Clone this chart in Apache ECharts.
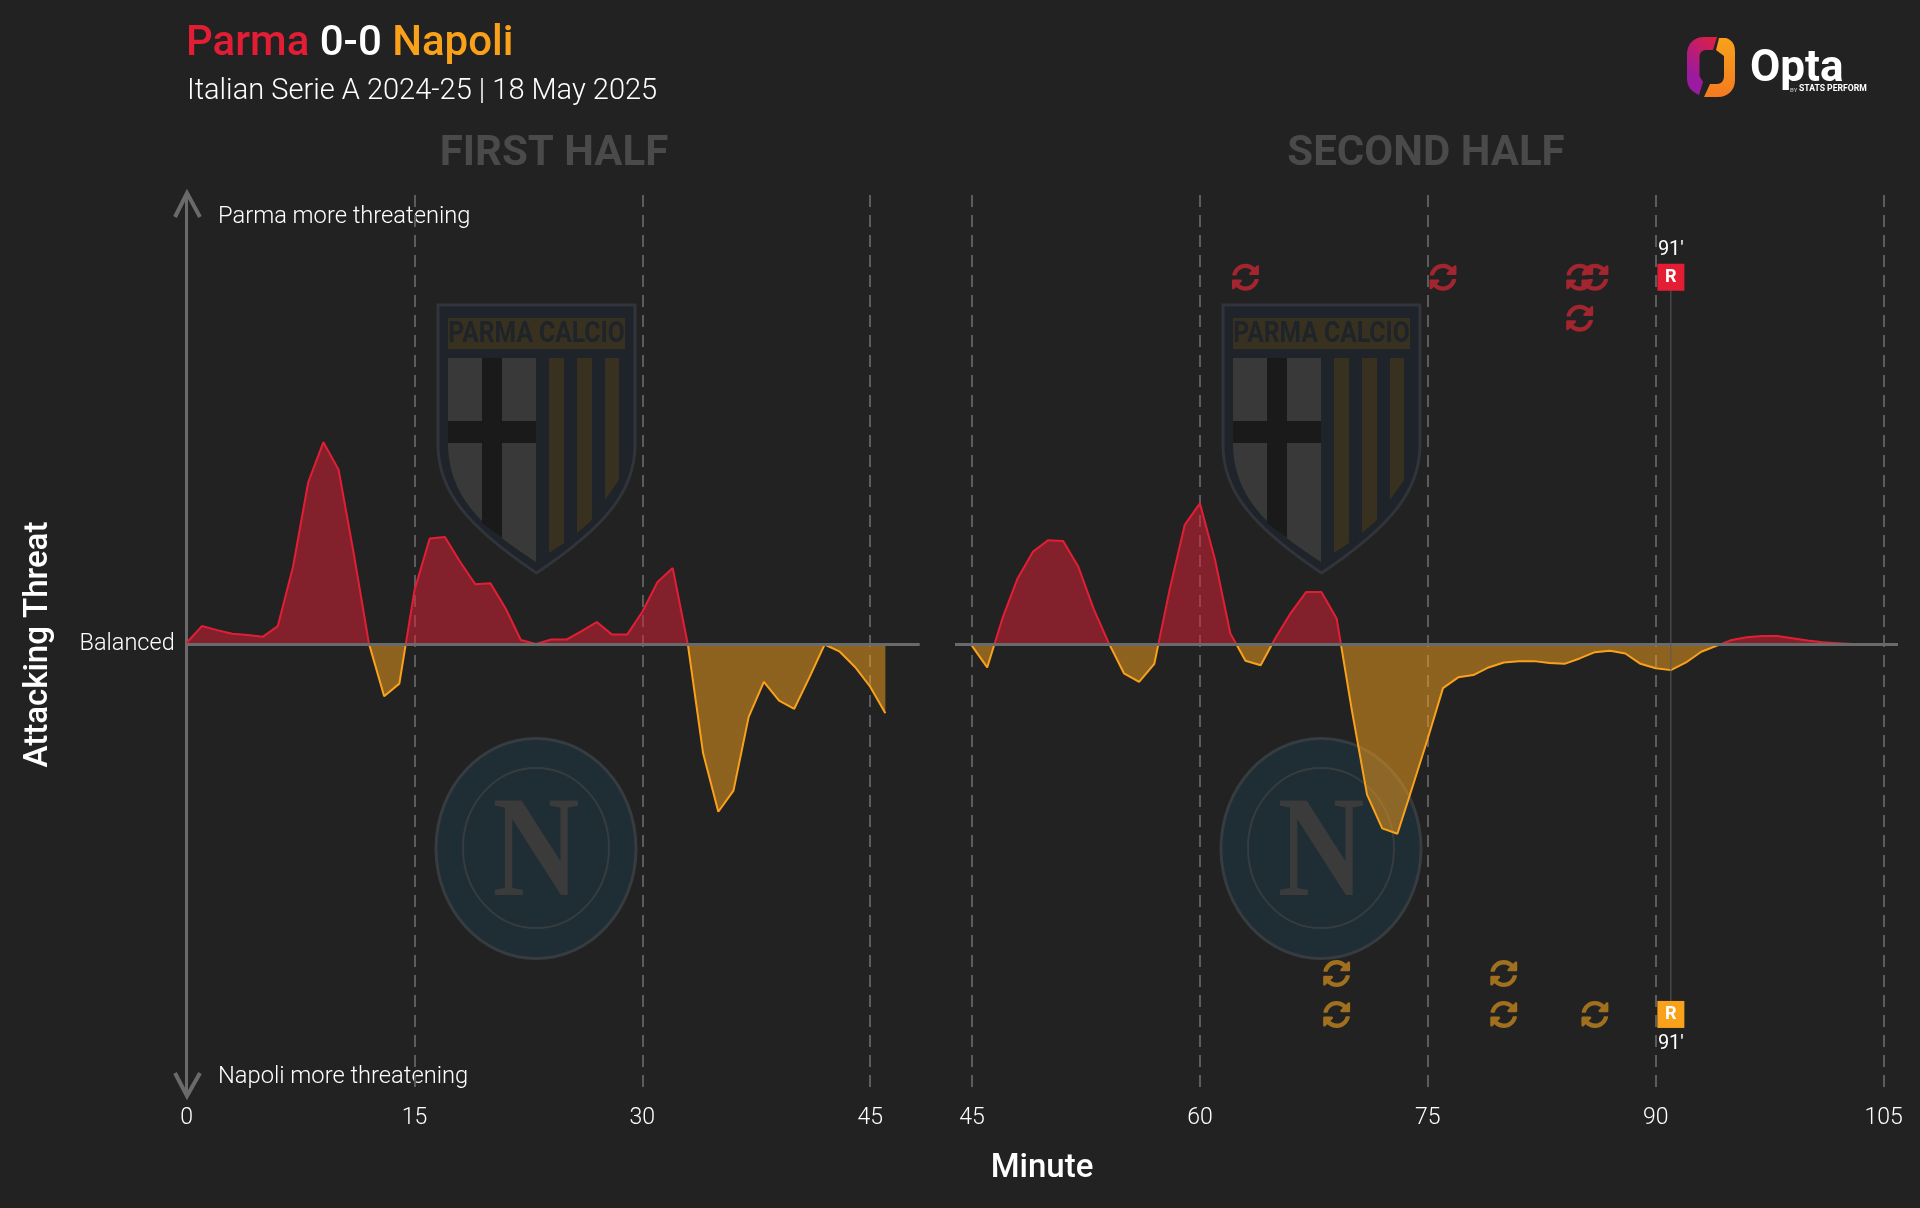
<!DOCTYPE html>
<html>
<head>
<meta charset="utf-8">
<title>Parma 0-0 Napoli</title>
<style>
  html, body { margin: 0; padding: 0; background: #222222; }
  #chart { width: 1920px; height: 1208px; }
</style>
<script src="https://cdn.jsdelivr.net/npm/echarts@6/dist/echarts.min.js"></script>
</head>
<body>
<div id="chart"></div>
<script>
const firstHalfStart = 0
const firstHalfThreat = [
  0.4, 4.1, 3.2, 2.4, 2.1, 1.7, 4.1, 17.3, 36.1, 45.0, 38.9, 20.2, 0.2, -11.5, -8.7, 12.1,
  23.6, 23.9, 18.4, 13.4, 13.6, 8.0, 1.0, 0.1, 1.1, 1.1, 3.0, 5.0, 2.2, 2.2, 7.3, 13.9,
  17.0, -0.1, -24.2, -37.2, -32.5, -16.1, -8.3, -12.5, -14.3, -7.3, 0.0, -1.6, -5.0, -9.4, -15.3
]
const secondHalfStart = 45
const secondHalfThreat = [
  -0.3, -5.1, 5.8, 14.7, 20.6, 23.2, 23.0, 17.3, 8.0, 0.3, -6.4, -8.3, -4.3, 12.1, 26.6, 31.4,
  18.8, 2.5, -3.6, -4.6, 1.6, 7.1, 11.7, 11.7, 5.8, -14.6, -33.4, -40.9, -42.1, -31.6, -20.9, -9.7,
  -7.3, -6.8, -5.1, -4.0, -3.7, -3.7, -4.1, -4.3, -3.1, -1.7, -1.4, -2.0, -4.3, -5.3, -5.7, -4.0,
  -1.6, -0.3, 1.0, 1.6, 1.9, 1.9, 1.4, 0.9, 0.5, 0.3, 0.1, 0.0
]
const firstHalfTicks = [0, 15, 30, 45]
const secondHalfTicks = [45, 60, 75, 90, 105]
const parmaSubsRow1 = [63, 76, 85, 86]
const parmaSubsRow2 = [85]
const napoliSubsRow1 = [69, 80]
const napoliSubsRow2 = [69, 80, 86]
const redCards = [91]

const RED = '#e31e34'
const ORANGE = '#f9a11b'
const GREY = '#6a6a6a'
const FONT = 'Roboto'
const SUB_ICON = 'path://M370.72 133.28C339.458 104.008 298.888 87.962 255.848 88c-77.458.068-144.328 53.178-162.791 126.85-1.344 5.363-6.122 9.15-11.651 9.15H24.103c-7.498 0-13.194-6.807-11.807-14.176C33.933 94.924 134.813 8 256 8c66.448 0 126.791 26.136 171.315 68.685L463.03 40.97C478.149 25.851 504 36.559 504 57.941V192c0 13.255-10.745 24-24 24H345.941c-21.382 0-32.09-25.851-16.971-40.971l41.75-41.749zM32 296h134.059c21.382 0 32.09 25.851 16.971 40.971l-41.75 41.75c31.262 29.273 71.835 45.319 114.876 45.28 77.418-.07 144.315-53.144 162.787-126.849 1.344-5.363 6.122-9.15 11.651-9.15h57.304c7.498 0 13.194 6.807 11.807 14.176C478.067 417.076 377.187 504 256 504c-66.448 0-126.791-26.136-171.315-68.685L48.97 471.03C33.851 486.149 8 475.441 8 454.059V320c0-13.255 10.745-24 24-24z'

const chart = echarts.init(document.getElementById('chart'), null, { renderer: 'canvas' })

function toPoints(start, values) {
  return values.map((v, i) => [start + i, v])
}

function xAxisFor(gridIndex, min, max, ticks) {
  return {
    type: 'value',
    gridIndex,
    min,
    max,
    axisLine: { show: false, onZero: false },
    axisTick: { show: false, customValues: ticks },
    axisLabel: {
      customValues: ticks,
      color: '#ffffff',
      fontFamily: FONT,
      fontWeight: 300,
      fontSize: 23,
      margin: 13
    },
    splitLine: {
      show: true,
      lineStyle: { color: '#5c5c5c', width: 2, type: [12, 8] }
    }
  }
}

function threatSeries(name, axisIndex, data) {
  return {
    name,
    type: 'line',
    xAxisIndex: axisIndex,
    yAxisIndex: axisIndex,
    data,
    showSymbol: false,
    symbol: 'none',
    smooth: false,
    lineStyle: { width: 2 },
    areaStyle: { opacity: 0.5, origin: 0 },
    markLine: {
      silent: true,
      symbol: 'none',
      animation: false,
      label: { show: false },
      lineStyle: { color: GREY, width: 3, type: 'solid' },
      data: [{ yAxis: 0 }]
    }
  }
}

function subSeries(name, minutes, level, color) {
  return {
    name,
    type: 'scatter',
    xAxisIndex: 1,
    yAxisIndex: 1,
    symbol: SUB_ICON,
    symbolSize: [27, 27],
    itemStyle: { color, opacity: 1 },
    data: minutes.map(m => [m, level]),
    z: 6
  }
}

function cardSeries(name, level, color) {
  return {
    name,
    type: 'scatter',
    xAxisIndex: 1,
    yAxisIndex: 1,
    symbol: 'rect',
    symbolSize: [27, 27],
    itemStyle: { color, opacity: 1 },
    label: {
      show: true,
      position: 'inside',
      formatter: 'R',
      color: '#ffffff',
      fontFamily: FONT,
      fontWeight: 700,
      fontSize: 18
    },
    data: redCards.map(m => [m, level]),
    z: 7
  }
}

function cardMinuteSeries(name, level) {
  return {
    name,
    type: 'scatter',
    xAxisIndex: 1,
    yAxisIndex: 1,
    symbolSize: 0,
    label: {
      show: true,
      position: 'inside',
      formatter: p => p.value[0] + "'",
      color: '#ffffff',
      fontFamily: FONT,
      fontWeight: 400,
      fontSize: 20
    },
    itemStyle: { opacity: 1 },
    data: redCards.map(m => [m, level]),
    z: 7
  }
}

function plainText(text, x, y, font, fill, extra) {
  return Object.assign({
    type: 'text',
    x,
    y,
    silent: true,
    style: { text, font, fill, align: 'left', verticalAlign: 'middle' }
  }, extra || {})
}

// the graphic component has no free path type, so each outline is registered as a shape
let shapeCount = 0
function pathEl(pathData, style) {
  const name = 'logoShape' + shapeCount++
  echarts.graphic.registerShape(name, echarts.graphic.extendPath(pathData, {}))
  return { type: name, style }
}

// club badges sit behind the curves, drawn once per half
function parmaBadge(dx) {
  const gold = '#38311f'
  return {
    type: 'group',
    x: dx,
    silent: true,
    children: [
      pathEl('M438 305H635V447C634 490 608 525 536.5 573C465 525 439 490 438 447Z', { fill: '#1f232a', stroke: '#31343a', lineWidth: 3 }),
      { type: 'rect', shape: { x: 448, y: 318, width: 177, height: 31 }, style: { fill: gold } },
      { type: 'text', x: 536.5, y: 335, scaleX: 0.85, style: { text: 'PARMA CALCIO', font: '700 29px ' + FONT, fill: '#1f232a', align: 'center', verticalAlign: 'middle' } },
      pathEl('M448 358H536V562C495 535 450 505 448 447Z', { fill: '#393939' }),
      pathEl('M482 358H502V538L482 523Z', { fill: '#1a1a1a' }),
      { type: 'rect', shape: { x: 448, y: 421, width: 88, height: 22 }, style: { fill: '#1a1a1a' } },
      pathEl('M549 358H564V543L549 553Z', { fill: gold }),
      pathEl('M577 358H592V520L577 533Z', { fill: gold }),
      pathEl('M605 358H619V480L605 500Z', { fill: gold })
    ]
  }
}

function napoliBadge(dx) {
  return {
    type: 'group',
    x: dx,
    silent: true,
    children: [
      { type: 'ellipse', shape: { cx: 536, cy: 848.5, rx: 100, ry: 110 }, style: { fill: '#1f2d34', stroke: '#363c40', lineWidth: 3 } },
      { type: 'ellipse', shape: { cx: 536, cy: 848, rx: 73, ry: 80 }, style: { fill: 'none', stroke: '#363c40', lineWidth: 2 } },
      { type: 'text', x: 536, y: 858, scaleX: 0.83, style: { text: 'N', font: '700 145px "Liberation Serif"', fill: '#3b3b3b', align: 'center', verticalAlign: 'middle' } }
    ]
  }
}

function optaLogo() {
  const left = new echarts.graphic.LinearGradient(0, 0.6, 1, 0, [
    { offset: 0, color: '#9a1aa0' },
    { offset: 1, color: '#e0203f' }
  ])
  const right = new echarts.graphic.LinearGradient(0, 0, 0, 1, [
    { offset: 0, color: '#f9a11b' },
    { offset: 1, color: '#f47a20' }
  ])
  return {
    type: 'group',
    silent: true,
    children: [
      pathEl('M1717 37H1704C1694 37 1687 44 1687 54V78C1687 87 1691 91 1699 95L1703 82L1699.5 76V57C1699.5 53 1702 50 1706 50H1713Z', { fill: left }),
      pathEl('M1726 38H1719L1716 50L1724 56V76C1724 81 1721 84 1717 84H1710L1704 97H1718C1728 97 1735 90 1735 80V52C1735 44 1732 40 1726 38Z', { fill: right }),
      plainText('Opta', 1750, 70, '700 44px ' + FONT, '#ffffff'),
      plainText('BY', 1790, 90, '500 6px ' + FONT, '#bbbbbb'),
      plainText('STATS PERFORM', 1799, 89, '700 8.6px ' + FONT, '#ffffff')
    ]
  }
}

const option = {
  backgroundColor: '#222222',
  animation: false,
  title: [
    {
      left: 186,
      top: 23,
      padding: 0,
      text: '{p|Parma} {w|0-0} {n|Napoli}',
      textStyle: {
        fontFamily: FONT,
        fontSize: 42,
        fontWeight: 500,
        color: '#ffffff',
        rich: {
          p: { color: RED, fontFamily: FONT, fontSize: 42, fontWeight: 500 },
          w: { color: '#ffffff', fontFamily: FONT, fontSize: 42, fontWeight: 500 },
          n: { color: ORANGE, fontFamily: FONT, fontSize: 42, fontWeight: 500 }
        }
      }
    },
    {
      left: 187,
      top: 77,
      padding: 0,
      text: 'Italian Serie A 2024-25 | 18 May 2025',
      textStyle: { fontFamily: FONT, fontSize: 29, fontWeight: 300, color: '#ffffff' }
    },
    {
      left: 554,
      top: 133,
      padding: 0,
      textAlign: 'center',
      text: 'FIRST HALF',
      textStyle: { fontFamily: FONT, fontSize: 42, fontWeight: 700, color: '#4a4a4a' }
    },
    {
      left: 1426,
      top: 133,
      padding: 0,
      textAlign: 'center',
      text: 'SECOND HALF',
      textStyle: { fontFamily: FONT, fontSize: 42, fontWeight: 700, color: '#4a4a4a' }
    },
    {
      left: 1042,
      top: 1152,
      padding: 0,
      textAlign: 'center',
      text: 'Minute',
      textStyle: { fontFamily: FONT, fontSize: 33, fontWeight: 500, color: '#ffffff' }
    }
  ],
  grid: [
    { left: 186.7, top: 195, width: 733, height: 899, containLabel: false },
    { left: 955, top: 195, width: 943, height: 899, containLabel: false }
  ],
  xAxis: [
    xAxisFor(0, 0, 48.26, firstHalfTicks),
    xAxisFor(1, 43.88, 105.95, secondHalfTicks)
  ],
  yAxis: [
    {
      type: 'value',
      gridIndex: 0,
      min: -100,
      max: 100,
      name: 'Attacking Threat',
      nameLocation: 'middle',
      nameRotate: 90,
      nameGap: 131,
      nameTextStyle: { color: '#ffffff', fontFamily: FONT, fontSize: 33, fontWeight: 500 },
      axisLine: { show: true, onZero: false, lineStyle: { color: GREY, width: 3 } },
      axisTick: { show: false },
      splitLine: { show: false },
      axisLabel: {
        customValues: [0],
        formatter: () => 'Balanced',
        color: '#ffffff',
        fontFamily: FONT,
        fontWeight: 300,
        fontSize: 23.5,
        margin: 12,
        padding: [9, 0, 0, 0]
      }
    },
    {
      type: 'value',
      gridIndex: 1,
      min: -100,
      max: 100,
      axisLine: { show: false },
      axisTick: { show: false },
      axisLabel: { show: false },
      splitLine: { show: false }
    }
  ],
  visualMap: {
    type: 'piecewise',
    show: false,
    dimension: 1,
    seriesIndex: [0, 1],
    pieces: [
      { gt: 0, lte: 100, color: RED },
      { gt: -100, lte: 0, color: ORANGE }
    ]
  },
  series: [
    threatSeries('First half', 0, toPoints(firstHalfStart, firstHalfThreat)),
    threatSeries('Second half', 1, toPoints(secondHalfStart, secondHalfThreat)),
    {
      name: 'Red card line',
      type: 'line',
      xAxisIndex: 1,
      yAxisIndex: 1,
      showSymbol: false,
      symbol: 'none',
      lineStyle: { color: '#5a5a5a', width: 1 },
      data: [[redCards[0], 82], [redCards[0], -82]],
      z: 5
    },
    subSeries('Parma subs', parmaSubsRow1, 81.7, '#a3252f'),
    subSeries('Parma subs late', parmaSubsRow2, 72.6, '#a3252f'),
    subSeries('Napoli subs', napoliSubsRow1, -73.2, '#a0701f'),
    subSeries('Napoli subs late', napoliSubsRow2, -82.3, '#a0701f'),
    cardSeries('Parma red', 81.7, RED),
    cardSeries('Napoli red', -82.3, ORANGE),
    cardMinuteSeries('Parma red minute', 87.8),
    cardMinuteSeries('Napoli red minute', -88.8)
  ],
  graphic: [
    parmaBadge(0),
    parmaBadge(785),
    napoliBadge(0),
    napoliBadge(785),
    optaLogo(),
    // arrow heads on the threat axis
    { type: 'polyline', silent: true, shape: { points: [[175, 217], [187, 193], [200, 217]] }, style: { fill: 'none', stroke: GREY, lineWidth: 4 } },
    { type: 'polyline', silent: true, shape: { points: [[175, 1073], [187, 1096], [200, 1073]] }, style: { fill: 'none', stroke: GREY, lineWidth: 4 } },
    plainText('Parma more threatening', 218, 217, '300 23.7px ' + FONT, '#ffffff'),
    plainText('Napoli more threatening', 218, 1077, '300 23.7px ' + FONT, '#ffffff')
  ]
}

chart.setOption(option)
window.addEventListener('resize', () => chart.resize())
</script>
</body>
</html>
